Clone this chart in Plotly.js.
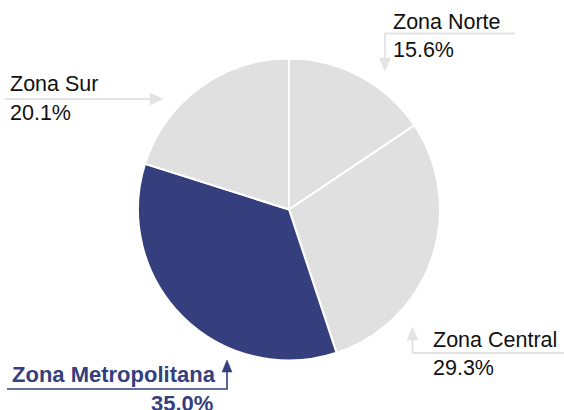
<!DOCTYPE html>
<html>
<head>
<meta charset="utf-8">
<script src="https://cdn.plot.ly/plotly-3.0.1.min.js"></script>
<style>html,body{margin:0;padding:0;background:#fff;}#chart{width:564px;height:410px;}</style>
</head>
<body>
<div id="chart"></div>
<script>
const categories = ["Zona Norte", "Zona Central", "Zona Metropolitana", "Zona Sur"];
const shares = [15.6, 29.3, 35.0, 20.1];
const highlight = "Zona Metropolitana";

const W = 564, H = 410;
const px = x => x / W;
const py = y => 1 - y / H;
const GRAY = "#e0e0e0", NAVY = "#353f7e", LINE = "#e3e3e3";

const colors = categories.map(c => c === highlight ? NAVY : GRAY);

const trace = {
  type: "pie",
  labels: categories,
  values: shares,
  sort: false,
  direction: "clockwise",
  rotation: 0,
  textinfo: "none",
  hoverinfo: "label+percent",
  marker: { colors: colors, line: { color: "#ffffff", width: 2 } },
  domain: { x: [px(138), px(440)], y: [py(360.5), py(58.5)] },
  showlegend: false
};

const pct = v => v.toFixed(1) + "%";
const font = { family: "Liberation Sans, Arial, sans-serif", size: 21.5, color: "#111111" };
const bold = { family: "Liberation Sans, Arial, sans-serif", size: 22, color: NAVY };

function ann(text, x, y, anchor, f) {
  return { text: text, x: px(x), y: py(y), xref: "paper", yref: "paper",
           xanchor: anchor, yanchor: "middle", showarrow: false, font: f, borderpad: 0 };
}

const annotations = [
  ann(categories[0], 392, 21.5, "left", font),
  ann(pct(shares[0]), 392, 49.5, "left", font),
  ann(categories[1], 432, 340, "left", font),
  ann(pct(shares[1]), 432, 367.5, "left", font),
  ann("<b>" + categories[2] + "</b>", 11, 374.5, "left", bold),
  ann("<b>" + pct(shares[2]) + "</b>", 214, 403, "right", bold),
  ann(categories[3], 9, 84.5, "left", font),
  ann(pct(shares[3]), 9, 112.5, "left", font)
];

function path(pts, closed) {
  return "M" + pts.map(p => px(p[0]) + "," + py(p[1])).join(" L") + (closed ? " Z" : "");
}
function lineShape(pts, color, w) {
  return { type: "path", xref: "paper", yref: "paper", path: path(pts, false),
           line: { color: color, width: w } };
}
function headShape(pts, color) {
  return { type: "path", xref: "paper", yref: "paper", path: path(pts, true),
           fillcolor: color, line: { color: color, width: 0.5 } };
}

const shapes = [
  // Norte
  lineShape([[515, 33.5], [385, 33.5], [385, 60]], LINE, 1.8),
  headShape([[379.5, 58], [390.5, 58], [385, 71]], LINE),
  // Sur
  lineShape([[5, 99], [152, 99]], LINE, 1.8),
  headShape([[150, 93], [150, 105], [163, 99]], LINE),
  // Metropolitana
  lineShape([[7, 389], [227, 389], [227, 370]], NAVY, 1.6),
  headShape([[222, 372], [232, 372], [227, 360]], NAVY),
  // Central
  lineShape([[564, 353], [412.5, 353], [412.5, 338]], LINE, 1.8),
  headShape([[407, 340], [418, 340], [412.5, 327]], LINE)
];

const layout = {
  width: W, height: H,
  margin: { l: 0, r: 0, t: 0, b: 0 },
  paper_bgcolor: "#ffffff",
  plot_bgcolor: "#ffffff",
  showlegend: false,
  annotations: annotations,
  shapes: shapes
};

Plotly.newPlot("chart", [trace], layout, { displayModeBar: false, staticPlot: true });
</script>
</body>
</html>
